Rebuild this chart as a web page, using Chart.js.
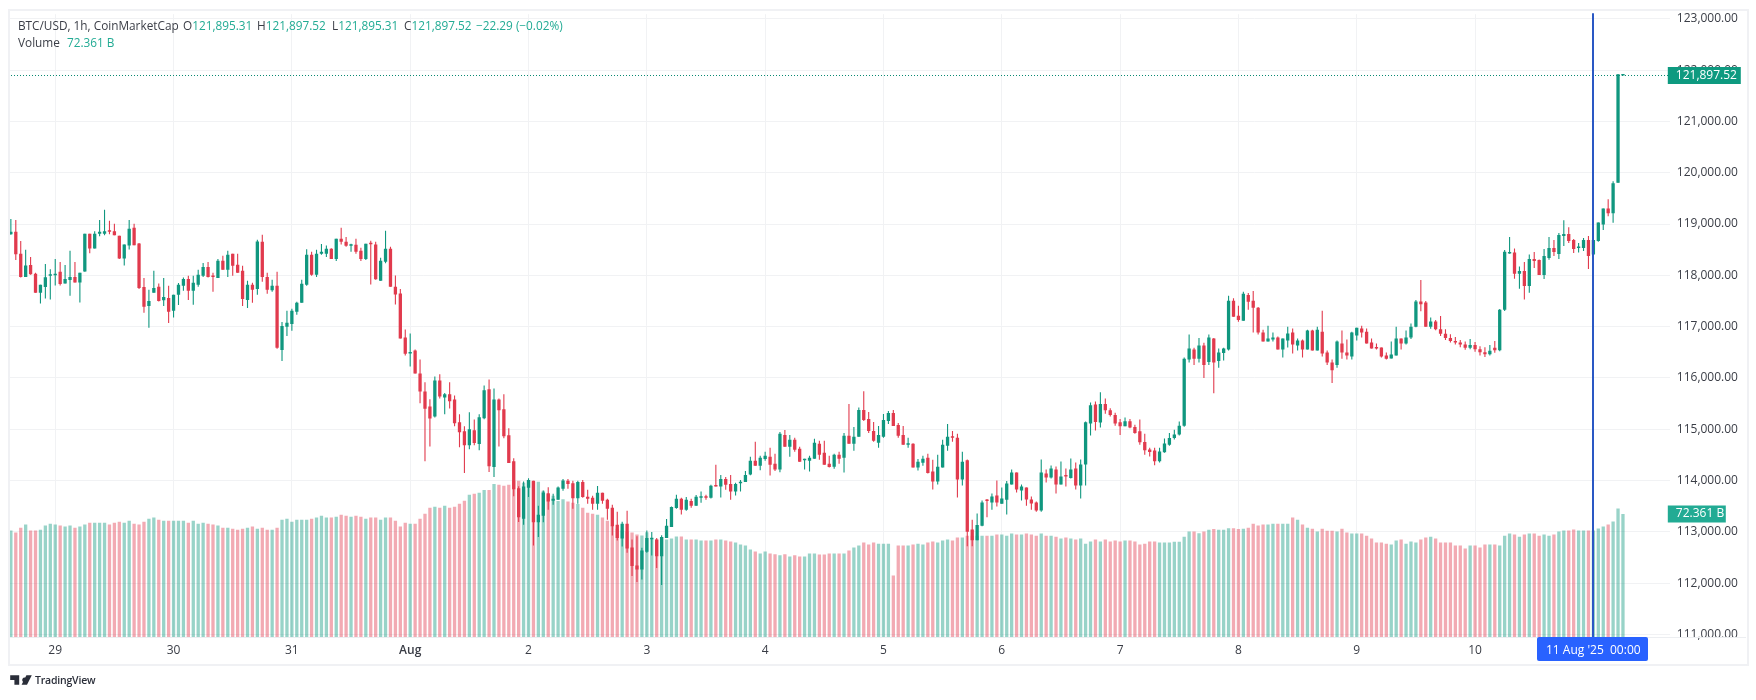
<!DOCTYPE html>
<html>
<head>
<meta charset="utf-8">
<title>BTC/USD</title>
<script src="https://cdn.jsdelivr.net/npm/chart.js@4/dist/chart.umd.min.js"></script>
<style>
  html, body { margin: 0; background: #fff; width: 1756px; height: 700px; overflow: hidden; }
  body { font-family: "Open Sans", sans-serif; font-size: 11.8px; color: #3a3d46; }
  #wrap { position: relative; width: 1756px; height: 700px; }
  #frame { position: absolute; left: 8px; top: 9px; width: 1737px; height: 653px; border: 2px solid #f0f1f4; pointer-events: none; }
  .legend { position: absolute; left: 18px; white-space: nowrap; }
  .legend b { font-weight: 400; color: #22ab94; }
  .legend span { position: absolute; top: 0; }
  #logo { position: absolute; left: 10px; top: 673px; display: flex; align-items: center; gap: 3px; font-size: 10.5px; font-weight: 600; letter-spacing: -0.2px; color: #2a2e39; }
</style>
</head>
<body>
<div id="wrap">
  <canvas id="btcChart" width="1756" height="700"></canvas>
  <div id="frame"></div>
  <div class="legend" style="top:17px">BTC/USD, 1h, CoinMarketCap
    <span style="left:165px">O<b>121,895.31</b></span>
    <span style="left:239px">H<b>121,897.52</b></span>
    <span style="left:314px">L<b>121,895.31</b></span>
    <span style="left:386px">C<b>121,897.52</b></span>
    <span style="left:458px"><b>−22.29 (−0.02%)</b></span>
  </div>
  <div class="legend" style="top:34px">Volume <b style="margin-left:4px">72.361 B</b></div>
  <div id="logo">
    <svg width="22" height="12" viewBox="0 0 36 20"><path fill="#2a2e39" d="M0 2h15v16H7V10H0zM24 6a4 4 0 1 1-.01 0zM27 2h9l-8 16h-9z"/></svg>
    <span>TradingView</span>
  </div>
</div>
<script>
// hourly candles, first one is 28 Jul 15:00
const opens = [
  118800,118850,118420,117970,118200,118030,117660,117775,117990,118000,
  118070,117840,117910,117970,117860,118075,118810,118525,118810,118810,
  118865,118860,118770,118330,118580,118930,118620,117775,117405,117660,
  117780,117515,117560,117310,117620,117795,117930,117700,117815,117990,
  118165,117990,117950,118285,118110,118420,118205,118090,117520,117815,
  117735,118655,117970,117710,117795,116545,117000,117050,117290,117465,
  117815,118400,118010,118420,118420,118520,118320,118715,118655,118575,
  118595,118480,118320,118620,118600,117895,118265,118520,117780,117645,
  116790,116475,116535,116085,115735,115445,115250,115950,115620,115680,
  115580,115135,114960,114690,114980,114710,115215,115780,114265,115580,
  115390,114885,114375,113850,113257,113858,113994,113185,113315,113754,
  113606,113625,113838,113994,113948,113657,113974,113683,113664,113547,
  113761,113625,113470,113140,112869,113160,112694,112345,112267,112610,
  112856,112849,112526,112882,113095,113463,113644,113431,113599,113509,
  113664,113683,113664,113910,113884,114032,113935,113787,113948,113974,
  114116,114387,114290,114420,114465,114329,114213,114890,114658,114794,
  114619,114394,114387,114426,114716,114542,114329,114271,114503,114445,
  114871,114716,114852,115374,115200,114968,114735,114852,115161,115316,
  115084,114890,114697,114716,114252,114349,114445,114174,113981,114252,
  114677,114852,114832,114020,114396,113044,112836,113121,113622,113570,
  113706,113550,113628,113921,114155,113804,113862,113629,113570,113414,
  114135,114057,114213,113921,114096,114051,114233,113902,114311,115110,
  115480,115130,115490,115370,115280,115137,115059,115156,115046,114961,
  114753,114604,114584,114376,114552,114700,114830,114900,115070,116362,
  116555,116375,116633,116310,116768,116330,116484,116555,117503,117213,
  117116,117619,117503,117368,116884,116710,116749,116787,116555,116729,
  116884,116633,116729,116555,116923,116536,116903,116497,116300,116250,
  116671,116497,116420,116826,116962,116903,116690,116594,116594,116439,
  116381,116439,116768,116671,116787,117000,117488,117470,117000,117100,
  116950,116860,116780,116720,116690,116650,116590,116640,116560,116500,
  116460,116590,116540,117330,118428,118447,118032,118084,117792,118318,
  118298,118006,118337,118532,118415,118765,118804,118687,118532,118532,
  118687,118408,118668,118992,119303,119213,119803,121895.31
];
const highs = [
  119100,119080,118670,118500,118360,118050,117815,118220,118120,118320,
  118260,118200,118480,118260,118050,118810,118810,118860,119080,119280,
  119065,119005,118770,118600,119080,119005,118630,117950,117720,118090,
  117840,117950,117795,117620,117850,117960,117990,117990,118110,118240,
  118260,118050,118320,118380,118480,118420,118420,118185,117895,117855,
  118695,118790,118050,117915,118070,117090,117310,117350,117485,117915,
  118510,118460,118500,118610,118580,118530,118715,118930,118750,118615,
  118715,118540,118615,118675,118655,118345,118870,118560,117995,117735,
  116945,116865,116555,116360,115915,115585,116030,116070,115705,115915,
  115660,115290,115060,115330,115190,115290,115855,115970,115795,115600,
  115680,115020,114435,113890,113980,114045,113994,113509,113806,113870,
  113741,113884,114032,114032,113994,113994,114013,113819,113703,113896,
  113761,113644,113528,113392,113198,113412,112849,112914,112688,113024,
  112998,112882,112933,113250,113496,113722,113664,113677,113644,113716,
  113787,113722,113916,114310,114110,114071,114110,113955,114013,114187,
  114465,114755,114484,114561,114639,114523,114948,114987,114890,114832,
  114658,114426,114484,114813,114774,114774,114484,114523,114561,114929,
  115490,115045,115426,115742,115335,115142,115065,115297,115355,115374,
  115123,115065,114832,114729,114420,114484,114523,114406,114503,114794,
  115103,114968,114910,114561,114409,113238,113356,113609,113641,113745,
  113999,113862,113993,114213,114155,113921,113862,113687,113590,114409,
  114213,114291,114272,114369,114233,114428,114350,114408,115150,115520,
  115540,115720,115600,115410,115320,115200,115230,115200,115090,115190,
  114910,114640,114640,114640,114818,114929,114990,115150,116400,116845,
  116587,116780,116684,116845,116780,116575,116587,117600,117555,117407,
  117678,117658,117697,117381,116942,117020,116884,116807,116768,117000,
  116962,116768,116749,116942,116942,117000,117310,116536,116360,116730,
  116923,116749,116903,116981,117020,116962,116768,116671,116594,116497,
  116710,117000,116768,116923,117060,117520,117909,117500,117180,117130,
  117210,116950,116850,116800,116740,116710,116760,116700,116620,116600,
  116640,116720,117345,118493,118746,118525,118175,118260,118408,118454,
  118311,118512,118746,118687,118824,119076,118940,118707,118630,118726,
  118765,118750,119031,119303,119485,119835,121920,121897.52
];
const lows = [
  118790,118300,117960,117970,118010,117660,117450,117550,117530,117800,
  117800,117840,117600,117860,117470,118070,118430,118525,118760,118780,
  118800,118780,118320,118190,118505,118585,117735,117270,116980,117660,
  117490,117405,117070,117180,117420,117700,117520,117425,117780,117970,
  117960,117680,117950,118110,117970,117990,118050,117405,117365,117465,
  117620,117875,117640,117680,116570,116330,116820,116920,117230,117465,
  117795,117990,117970,118400,118360,118320,118280,118600,118560,118460,
  118420,118280,118300,117820,117915,117895,118235,117780,117430,116770,
  116440,116225,116085,115505,114375,114665,115230,115600,115290,115405,
  115060,114650,114145,114610,114690,114590,115195,114165,114070,114665,
  114825,114340,113695,113190,113140,113677,112733,112900,113185,113431,
  113528,113625,113800,113838,113450,113547,113664,113547,113431,113431,
  113547,113237,112927,112830,112713,112590,112138,112022,112073,112591,
  112539,112293,111964,112882,113095,113450,113340,113412,113470,113509,
  113567,113625,113651,113884,113670,113819,113625,113709,113787,113974,
  114103,114290,114200,114387,114097,114187,114161,114658,114465,114561,
  114368,114213,114174,114426,114406,114310,114252,114232,114329,114155,
  114716,114581,114852,115161,114929,114755,114639,114832,115103,115065,
  114832,114697,114639,114252,114194,114290,114135,113826,113923,114252,
  114581,114755,113671,113903,112718,112718,112836,113108,113284,113433,
  113492,113550,113336,113921,113765,113609,113511,113433,113394,113394,
  113960,114038,113745,113921,113882,114038,113824,113648,113902,114877,
  114974,115033,115300,115250,115070,114890,115059,115020,114910,114700,
  114505,114468,114300,114350,114540,114680,114800,114880,115050,116300,
  116250,116300,116000,116250,115700,116200,116340,116536,117194,117097,
  117116,117329,116884,116845,116710,116710,116710,116555,116400,116594,
  116478,116536,116400,116555,116536,116536,116420,116250,115900,116200,
  116375,116362,116362,116730,116787,116671,116575,116555,116400,116360,
  116381,116439,116555,116652,116760,116990,117300,117000,116960,116930,
  116820,116740,116690,116650,116600,116550,116560,116510,116440,116410,
  116440,116490,116520,117306,118420,117935,117740,117527,117663,118143,
  118006,117930,118305,118376,118318,118570,118630,118434,118447,118473,
  118123,118380,118655,118882,119150,119025,119803,121895.31
];
const closes = [
  118850,118410,117970,118190,118020,117660,117815,117965,118010,118030,
  117830,117930,117970,117860,118050,118810,118525,118810,118850,118860,
  118850,118780,118330,118600,118910,118585,117755,117390,117500,117755,
  117500,117580,117290,117620,117815,117930,117700,117855,118010,118165,
  117970,117970,118285,118110,118400,118185,118050,117540,117815,117720,
  118660,117970,117720,117795,116590,117015,117075,117310,117465,117835,
  118400,118010,118420,118460,118520,118320,118715,118655,118575,118595,
  118460,118320,118615,118605,117925,118285,118520,117780,117625,116770,
  116470,116495,116085,115735,115400,115210,115950,115640,115680,115545,
  115115,114940,114690,115000,114730,115235,115760,114280,115580,115370,
  114865,114340,113830,113285,113884,114013,113185,113334,113767,113593,
  113644,113864,114000,113935,113657,113974,113677,113644,113547,113761,
  113606,113450,113108,112882,113160,112675,112332,112267,112636,112882,
  112875,112526,112901,113121,113483,113644,113431,113625,113509,113683,
  113690,113664,113897,113884,114032,113916,113787,113935,113974,114110,
  114387,114290,114445,114484,114310,114213,114910,114658,114794,114600,
  114368,114413,114445,114735,114503,114310,114265,114503,114426,114871,
  114716,114852,115374,115181,114968,114774,114890,115181,115316,115065,
  114871,114697,114716,114252,114368,114426,114148,113981,114271,114697,
  114852,114832,114020,114368,113004,112836,113135,113570,113603,113687,
  113570,113648,113941,114155,113824,113882,113629,113551,113414,114155,
  114057,114233,113921,114077,114077,114213,113902,114311,115137,115470,
  115140,115490,115370,115280,115110,115059,115156,115033,114929,114747,
  114590,114558,114376,114565,114720,114831,114900,115070,116375,116575,
  116375,116633,116250,116787,116300,116497,116575,117503,117194,117129,
  117639,117484,117368,116884,116710,116768,116787,116555,116768,116865,
  116652,116729,116555,116923,116536,116942,116478,116300,116150,116710,
  116497,116439,116884,116981,116884,116671,116575,116575,116420,116375,
  116458,116768,116671,116787,117000,117488,117435,117000,117100,116950,
  116860,116780,116720,116690,116650,116590,116640,116560,116500,116460,
  116530,116540,117330,118460,118455,118032,118084,117792,118318,118279,
  118006,118376,118532,118454,118785,118804,118668,118512,118551,118687,
  118376,118687,119031,119303,119213,119796,121919.81,121897.52
];
// volume in billions
const volumes = [
  62.6,61.4,64.3,66.1,62.6,62.6,63.1,65.5,66.6,66.1,
  65.5,64.9,65.5,64.3,64.9,66.1,67.2,67.2,67.2,67.2,
  66.1,67.2,67.8,67.2,68.4,66.6,66.1,67.8,69.6,70.2,
  69.0,68.4,68.4,68.4,68.4,68.4,67.2,68.4,66.6,67.2,
  66.6,66.1,65.5,64.3,64.3,63.7,63.1,63.7,64.3,64.9,
  63.7,64.3,63.1,63.1,64.3,69.0,69.6,67.8,69.0,69.0,
  69.0,69.6,70.2,71.3,70.2,70.2,70.7,71.9,71.3,70.7,
  71.3,70.7,69.6,70.2,70.2,69.0,70.2,70.2,68.4,64.9,
  67.2,66.6,66.6,69.6,72.5,76.0,76.6,76.0,77.2,76.0,
  76.6,78.3,80.1,83.6,84.2,84.8,86.5,86.5,90.0,89.5,
  88.9,89.5,91.8,91.8,90.7,91.8,91.3,91.3,86.0,84.0,
  83.0,80.0,81.0,79.6,79.0,78.2,76.0,73.1,72.5,71.9,
  70.2,68.4,65.5,63.6,62.6,62.0,61.4,60.3,59.7,61.6,
  57.9,57.3,58.7,57.3,57.9,59.1,59.1,57.3,57.3,57.3,
  56.7,56.7,56.7,57.3,57.3,56.7,56.2,55.6,54.4,53.8,
  51.5,50.3,49.1,50.3,49.1,48.6,48.0,48.6,47.4,48.0,
  47.4,47.4,49.1,49.1,48.5,48.5,49.1,49.1,49.1,49.1,
  50.9,52.6,53.8,55.5,54.4,55.5,54.9,54.9,54.9,36.2,
  53.8,53.8,53.8,54.4,54.9,54.4,55.5,56.1,55.5,56.7,
  57.3,56.7,58.5,58.5,59.6,59.6,59.6,59.6,59.6,59.6,
  60.2,60.2,59.6,60.8,60.2,60.2,60.8,60.2,59.6,60.8,
  59.6,59.6,59.0,57.9,58.5,57.9,57.3,57.9,54.9,56.1,
  57.3,56.1,57.3,56.1,56.7,56.1,56.7,56.7,56.1,54.4,
  54.9,56.1,56.1,55.5,55.5,55.5,56.0,56.0,59.0,62.0,
  62.0,61.0,62.0,63.0,63.5,63.0,63.0,64.0,64.0,63.5,
  63.7,64.3,66.6,65.5,66.1,66.1,66.6,66.6,66.6,66.6,
  70.2,69.0,66.1,64.3,63.7,62.0,63.7,62.5,62.5,62.0,
  63.7,61.4,60.8,60.8,60.8,59.6,57.9,55.5,55.5,54.9,
  54.4,56.7,57.3,54.9,56.1,55.5,57.3,58.5,59.0,57.9,
  55.5,55.5,55.5,53.8,53.8,52.0,53.8,53.8,52.6,54.4,
  54.4,54.4,53.8,59.6,60.8,60.2,59.0,60.2,60.8,60.8,
  59.6,60.2,59.6,60.2,62.0,62.6,62.6,63.2,62.6,62.6,
  62.6,62.6,63.8,64.9,66.1,67.9,75.5,72.361
];
const dayTicks = ['29', '30', '31', 'Aug', '2', '3', '4', '5', '6', '7', '8', '9', '10', '11'];
const priceTicks = [111000, 112000, 113000, 114000, 115000, 116000, 117000, 118000, 119000, 120000, 121000, 122000, 123000];
const firstMidnight = 9;   // candle index of 29 Jul 00:00
const crosshairIndex = 321; // 11 Aug 00:00
const emptySlots = 9;       // free room right of the last candle

const GREEN = '#10977f', RED = '#e13a4d';
const GREEN_VOL = 'rgba(10,150,125,0.42)', RED_VOL = 'rgba(226,58,78,0.43)';
const GRID = '#f1f2f4';
const TEXT = '#3a3d46';
const FONT = '"Open Sans", sans-serif';

const isUp = i => closes[i] >= opens[i];
const labels = [];
for (let i = 0; i < opens.length + emptySlots; i++) {
  const d = (i - firstMidnight) / 24;
  labels.push(Number.isInteger(d) && dayTicks[d] ? dayTicks[d] : '');
}

function tag(ctx, x, y, w, h, color, r) {
  ctx.fillStyle = color;
  ctx.beginPath();
  ctx.roundRect(x, y, w, h, r);
  ctx.fill();
}

// blue crosshair, last price line and the axis tags
const overlay = {
  id: 'overlay',
  afterDatasetsDraw(chart) {
    const { ctx, chartArea: a, scales } = chart;
    const lastClose = closes[closes.length - 1];
    const lastVol = volumes[volumes.length - 1];
    const py = scales.y.getPixelForValue(lastClose);
    const vy = scales.yVol.getPixelForValue(lastVol);
    const cx = Math.round(scales.x.getPixelForValue(crosshairIndex));
    ctx.save();

    ctx.strokeStyle = '#0a8a72';
    ctx.lineWidth = 1;
    ctx.setLineDash([1, 2]);
    ctx.beginPath();
    ctx.moveTo(Math.round(a.left), Math.round(py) + 0.5);
    ctx.lineTo(a.right, Math.round(py) + 0.5);
    ctx.stroke();
    ctx.setLineDash([]);

    ctx.strokeStyle = '#2a58c4';
    ctx.lineWidth = 2;
    ctx.beginPath();
    ctx.moveTo(cx, a.top - 1);
    ctx.lineTo(cx, a.bottom);
    ctx.stroke();

    // axis separator
    ctx.strokeStyle = '#eceef1';
    ctx.lineWidth = 1;
    ctx.beginPath();
    ctx.moveTo(a.left, a.bottom + 0.5);
    ctx.lineTo(1746, a.bottom + 0.5);
    ctx.stroke();

    ctx.textBaseline = 'middle';
    ctx.font = '12px ' + FONT;
    tag(ctx, a.right - 2, py - 8.5, 73, 17, '#0e9a80', 0);
    ctx.fillStyle = '#fff';
    ctx.fillText(lastClose.toLocaleString('en-US'), a.right + 6, py);

    tag(ctx, a.right - 2, vy - 8.5, 58, 17, '#22ab94', 0);
    ctx.fillStyle = '#fff';
    ctx.fillText(lastVol.toFixed(3) + ' B', a.right + 6, vy);

    tag(ctx, cx - 56, a.bottom, 111, 24, '#2962ff', 2);
    ctx.fillStyle = '#fff';
    ctx.fillText("11 Aug '25", cx - 47, a.bottom + 14);
    ctx.fillText('00:00', cx + 17, a.bottom + 14);
    ctx.restore();
  }
};

const btcChart = new Chart(document.getElementById('btcChart').getContext('2d'), {
  type: 'bar',
  plugins: [overlay],
  data: {
    labels: labels,
    datasets: [
      {
        label: 'Candles',
        yAxisID: 'y',
        order: 1,
        data: opens.map((o, i) => [Math.min(o, closes[i]), Math.max(o, closes[i])]),
        backgroundColor: opens.map((o, i) => isUp(i) ? GREEN : RED),
        barThickness: 3.3,
        minBarLength: 1.5,
        inflateAmount: 0
      },
      {
        label: 'Wicks',
        yAxisID: 'y',
        order: 2,
        data: lows.map((l, i) => [l, highs[i]]),
        backgroundColor: opens.map((o, i) => isUp(i) ? GREEN : RED),
        barThickness: 1.1,
        inflateAmount: 0
      },
      {
        label: 'Volume',
        yAxisID: 'yVol',
        order: 3,
        data: volumes,
        backgroundColor: opens.map((o, i) => isUp(i) ? GREEN_VOL : RED_VOL),
        barThickness: 3.3,
        inflateAmount: 0
      }
    ]
  },
  options: {
    responsive: false,
    animation: false,
    devicePixelRatio: 1,
    layout: { padding: { left: 8.4, top: 11, right: 0, bottom: 36 } },
    plugins: { legend: { display: false }, tooltip: { enabled: false } },
    datasets: { bar: { grouped: false } },
    scales: {
      x: {
        offset: true,
        grid: {
          offset: false,
          drawTicks: false,
          color: c => (c.tick && c.tick.label ? GRID : 'transparent')
        },
        border: { display: false },
        ticks: {
          autoSkip: false,
          maxRotation: 0,
          padding: 6,
          color: TEXT,
          font: c => ({ family: FONT, size: 12, weight: c.tick && c.tick.label === 'Aug' ? '600' : '400' })
        },
        afterFit(scale) { scale.height = 27; }
      },
      y: {
        display: true,
        position: 'right',
        min: 110950,
        max: 123091,
        ticks: {
          autoSkip: false,
          padding: 7,
          color: TEXT,
          font: { family: FONT, size: 12 },
          callback: v => v.toLocaleString('en-US', { minimumFractionDigits: 2 })
        },
        afterBuildTicks(scale) { scale.ticks = priceTicks.map(v => ({ value: v })); },
        afterFit(scale) { scale.width = 86.2; },
        grid: { color: GRID, drawTicks: false },
        border: { display: false }
      },
      yVol: {
        display: false,
        min: 0,
        max: 366.2
      }
    }
  }
});
</script>
</body>
</html>
